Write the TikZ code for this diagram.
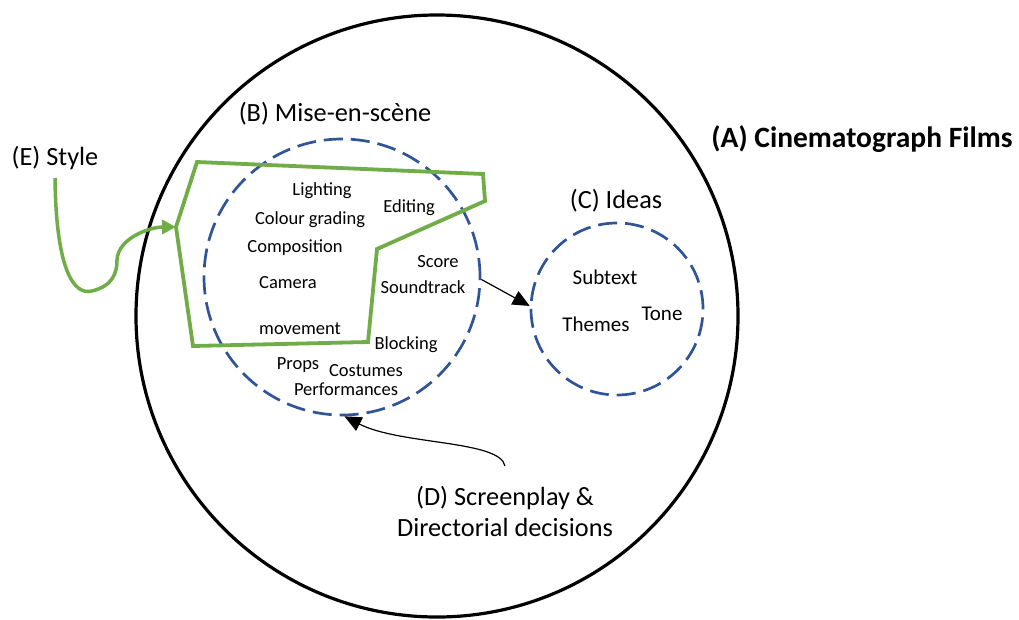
\documentclass[tikz,border=0pt]{standalone}
\usepackage{fontspec}
\setmainfont{Carlito}
\usetikzlibrary{arrows.meta}
\definecolor{ggreen}{HTML}{70AD47}
\definecolor{dblue}{HTML}{2F5597}
\tikzset{
  small/.style={font=\fontsize{18.5}{20}\selectfont, inner sep=0pt, text height=12pt, text depth=3pt},
  mid/.style={font=\fontsize{21}{23}\selectfont, inner sep=0pt, text height=13.5pt, text depth=3.5pt},
  big/.style={font=\fontsize{26.3}{31}\selectfont, inner sep=0pt, align=center},
  dashcircle/.style={circle, draw=dblue, line width=2.7pt, dash pattern=on 19pt off 8pt, inner sep=0pt},
  thinarrow/.style={line width=1.2pt, -{Triangle[length=17pt,width=15pt]}},
  greenline/.style={draw=ggreen, line width=3.8pt, line join=miter},
}
\begin{document}
\begin{tikzpicture}[x=1pt,y=-1pt]
\useasboundingbox (0,0) rectangle (1019,619);
% outer circle
\node[circle, draw=black, line width=3.2pt, minimum size=602pt, inner sep=0pt] (A) at (437,316) {};
\node[dashcircle, minimum size=276pt] (B) at (342,277) {};
\node[dashcircle, minimum size=172pt] (C) at (617,309) {};

% labels
\node[font=\fontsize{29.5}{34}\selectfont\bfseries, inner sep=0pt] (Alab) at (862,139) {(A) Cinematograph Films};
\node[big] (Blab) at (335,114) {(B) Mise-en-sc\`ene};
\node[big] (Clab) at (616,201) {(C) Ideas};
\node[big] (Elab) at (55,158) {(E) Style};
\node[big] (Dlab) at (505,511) {(D) Screenplay \&\\Directorial decisions};

% inner texts
\node[small] (t1) at (322,191) {Lighting};
\node[small] (t2) at (310,220) {Colour grading};
\node[small] (t3) at (409,208) {Editing};
\node[small] (t4) at (295,248) {Composition};
\node[small] (t5) at (288,284) {Camera};
\node[small] (t6) at (438,263) {Score};
\node[small] (t7) at (423,289) {Soundtrack};
\node[small] (t8) at (300,330) {movement};
\node[small] (t9) at (406,345) {Blocking};
\node[small] (t10) at (298,365) {Props};
\node[small] (t11) at (366,372) {Costumes};
\node[small] (t12) at (346,391) {Performances};
\node[mid] (t13) at (605,279) {Subtext};
\node[mid] (t14) at (662,315) {Tone};
\node[mid] (t15) at (596,326) {Themes};

% green polygon (style)
\coordinate (P1) at (197,162);
\coordinate (P2) at (483,174);
\coordinate (P3) at (485,201);
\coordinate (P4) at (377,249);
\coordinate (P5) at (368,342);
\coordinate (P6) at (193,346);
\coordinate (P7) at (176,227);
\draw[greenline] (P1) -- (P2) -- (P3) -- (P4) -- (P5) -- (P6) -- (P7) -- cycle;

% green arrow from Style
\coordinate (Etail) at (55,178);
\draw[draw=ggreen, line width=3.5pt, -{Triangle[length=14pt,width=14pt]}]
  (Etail) .. controls (56,265) and (72,296) .. (92,291)
  .. controls (112,286) and (117,274) .. (117,260)
  .. controls (118,238) and (150,227) .. (P7);

% B -> C arrow
\draw[thinarrow] (B.-1) -- (C.178);

% D -> B arrow
\coordinate (Dtail) at (505,466);
\draw[thinarrow] (Dtail) .. controls (500,440) and (400,445) .. (B.-89);
\end{tikzpicture}
\end{document}
